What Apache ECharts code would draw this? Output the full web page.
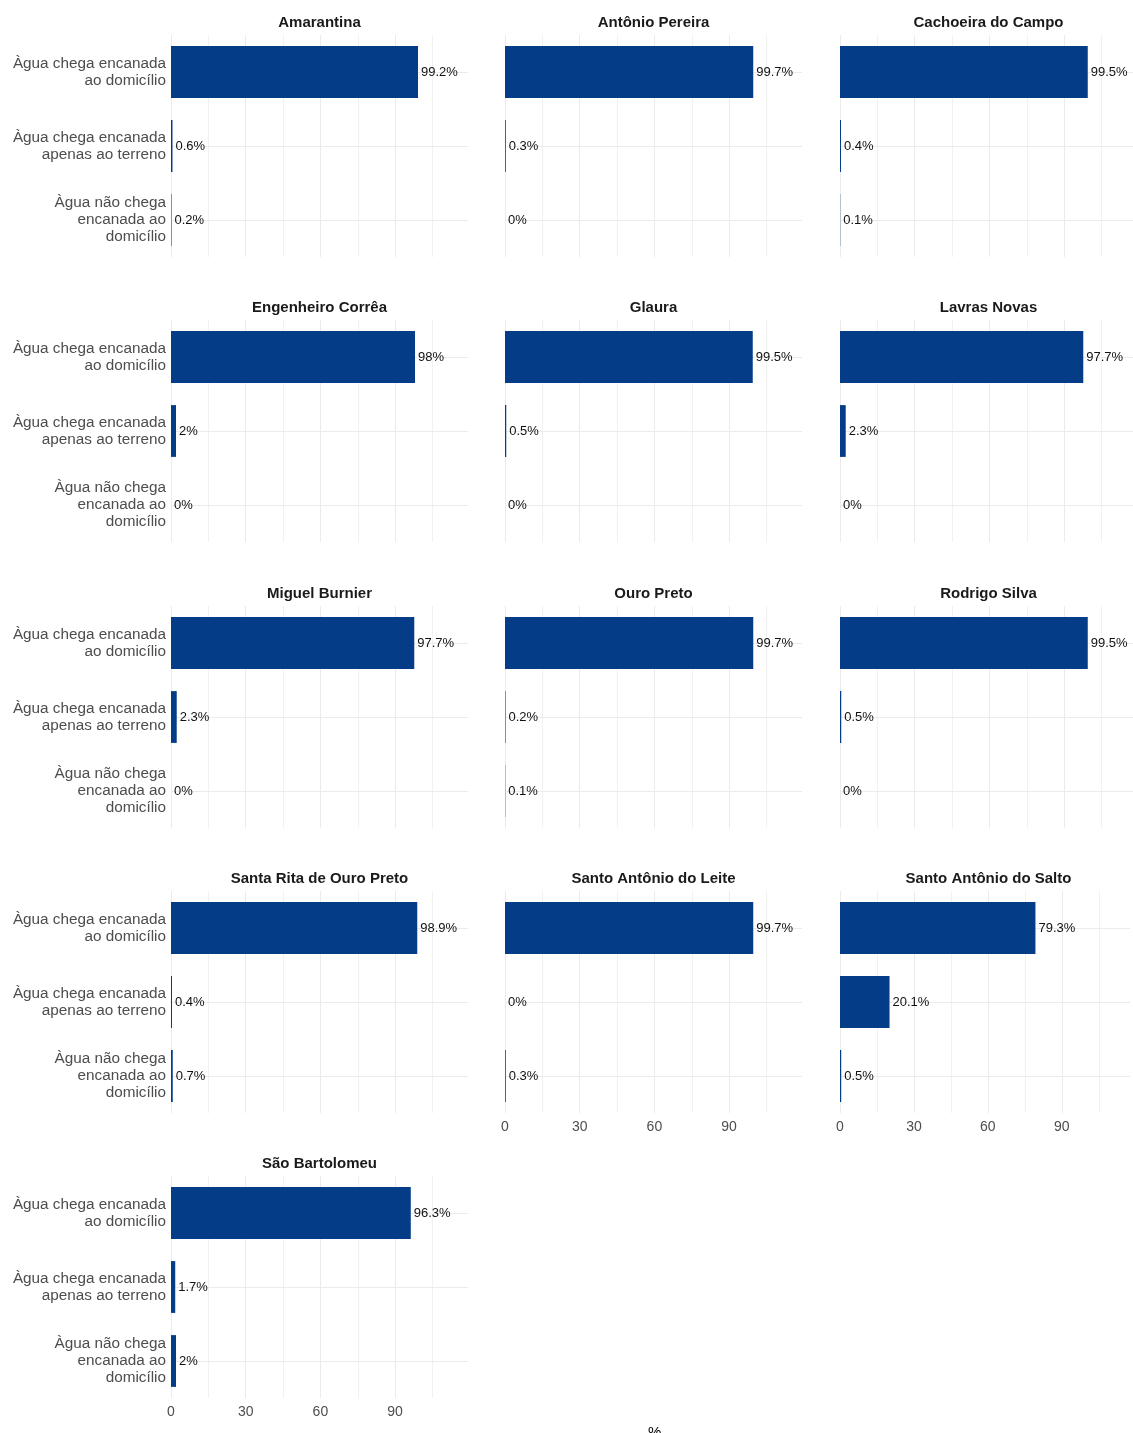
<!DOCTYPE html>
<html>
<head>
<meta charset="utf-8">
<script src="https://cdn.jsdelivr.net/npm/echarts@6/dist/echarts.min.js"></script>
<style>
html, body { margin: 0; padding: 0; background: #ffffff; }
#chart { width: 1133px; height: 1433px; }
</style>
</head>
<body>
<div id="chart"></div>
<script>
// dados: percentual de domicílios por forma de abastecimento de água
var categorias = [
  "Àgua chega encanada\nao domicílio",
  "Àgua chega encanada\napenas ao terreno",
  "Àgua não chega\nencanada ao\ndomicílio"
];
var distritos = [
  "Amarantina", "Antônio Pereira", "Cachoeira do Campo",
  "Engenheiro Corrêa", "Glaura", "Lavras Novas",
  "Miguel Burnier", "Ouro Preto", "Rodrigo Silva",
  "Santa Rita de Ouro Preto", "Santo Antônio do Leite", "Santo Antônio do Salto",
  "São Bartolomeu"
];
var aoDomicilio   = [99.2, 99.7, 99.5, 98, 99.5, 97.7, 97.7, 99.7, 99.5, 98.9, 99.7, 79.3, 96.3];
var apenasTerreno = [0.6, 0.3, 0.4, 2, 0.5, 2.3, 2.3, 0.2, 0.5, 0.4, 0, 20.1, 1.7];
var naoChega      = [0.2, 0, 0.1, 0, 0, 0, 0, 0.1, 0, 0.7, 0.3, 0.5, 2];
var ticksX = [0, 30, 60, 90];

var myChart = echarts.init(document.getElementById("chart"));

var colLeft = [171, 505, 840];
var colW = [297, 297, 293];
var rowTop = [35, 320, 606, 891, 1176];
var panelH = 222;
var pxPorUnidade = 2.49;
var cor = "#043c88";

var grids = [], xAxes = [], yAxes = [], series = [], titles = [];

for (var i = 0; i < distritos.length; i++) {
  var col = i % 3;
  var row = Math.floor(i / 3);
  // painel mostra eixo x só se não houver painel abaixo
  var showX = (i + 3) >= distritos.length;
  var showY = col === 0;

  grids.push({ left: colLeft[col], top: rowTop[row], width: colW[col], height: panelH });

  titles.push({
    text: distritos[i],
    left: colLeft[col] + 297 / 2,
    top: rowTop[row] - 20,
    padding: 0,
    textAlign: "center",
    textStyle: { fontFamily: "Liberation Sans", fontSize: 15, fontWeight: "bold", color: "#1a1a1a" }
  });

  xAxes.push({
    type: "value",
    gridIndex: i,
    min: 0,
    max: colW[col] / pxPorUnidade,
    interval: 30,
    axisLine: { show: false },
    axisTick: { show: false },
    axisLabel: {
      show: showX,
      margin: 7,
      fontFamily: "Liberation Sans",
      fontSize: 14,
      color: "#4d4d4d",
      formatter: function (v) { return ticksX.indexOf(v) >= 0 ? String(v) : ""; }
    },
    splitLine: { show: true, showMaxLine: false, lineStyle: { color: "#ebebeb", width: 1 } },
    minorTick: { show: false, splitNumber: 2 },
    minorSplitLine: { show: true, lineStyle: { color: "#f1f1f1", width: 1 } }
  });

  yAxes.push({
    type: "category",
    gridIndex: i,
    inverse: true,
    data: categorias,
    axisLine: { show: false },
    axisTick: { show: false },
    splitLine: { show: false },
    axisLabel: {
      show: showY,
      margin: 5,
      fontFamily: "Liberation Sans",
      fontSize: 15.3,
      lineHeight: 17,
      color: "#4d4d4d",
      align: "right"
    }
  });

  // linhas horizontais do grid no centro de cada categoria
  series.push({
    type: "line",
    xAxisIndex: i,
    yAxisIndex: i,
    data: [],
    z: 0,
    silent: true,
    markLine: {
      z: 0,
      silent: true,
      symbol: "none",
      label: { show: false },
      lineStyle: { color: "#ebebeb", width: 1, type: "solid" },
      data: categorias.map(function (c) { return { yAxis: c }; })
    }
  });

  series.push({
    type: "bar",
    xAxisIndex: i,
    yAxisIndex: i,
    z: 3,
    barCategoryGap: "30%",
    itemStyle: { color: cor },
    label: {
      show: true,
      position: "right",
      distance: 3,
      fontFamily: "Liberation Sans",
      fontSize: 13,
      color: "#111111",
      formatter: function (p) { return p.value + "%"; }
    },
    data: [aoDomicilio[i], apenasTerreno[i], naoChega[i]]
  });
}

myChart.setOption({
  animation: false,
  backgroundColor: "#ffffff",
  title: titles,
  grid: grids,
  xAxis: xAxes,
  yAxis: yAxes,
  series: series,
  graphic: [{
    type: "text",
    left: 648,
    top: 1425,
    style: { text: "%", fontFamily: "Liberation Sans", fontSize: 15, fill: "#000000" }
  }]
});
</script>
</body>
</html>
